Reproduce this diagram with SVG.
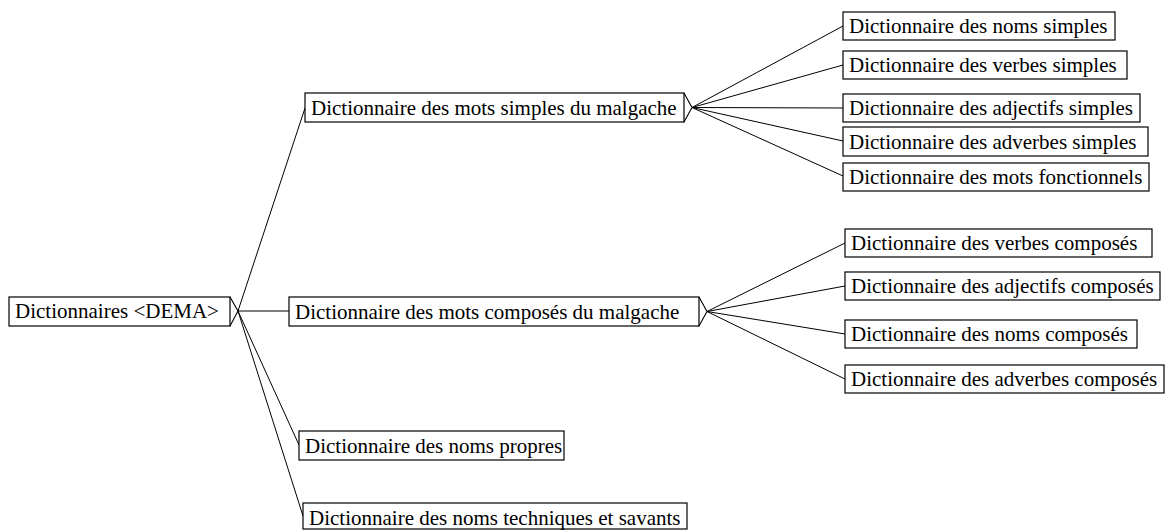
<svg xmlns="http://www.w3.org/2000/svg" width="1166" height="530" viewBox="0 0 1166 530">
<style>
.box{fill:#fff;stroke:#000;stroke-width:1.2}
.chev{fill:none;stroke:#000;stroke-width:1.1}
.lbl{font-family:"Liberation Serif","Times New Roman",serif;font-size:21px;fill:#000}
.conn line{stroke:#000;stroke-width:1}
</style>
<rect x="0" y="0" width="1166" height="530" fill="#fff"/>
<g id="connectors" class="conn">
<line x1="238" y1="311" x2="305" y2="108"/>
<line x1="238" y1="311" x2="289" y2="311"/>
<line x1="238" y1="311" x2="299" y2="445"/>
<line x1="238" y1="311" x2="303" y2="516"/>
<line x1="692" y1="107.5" x2="843" y2="26"/>
<line x1="692" y1="107.5" x2="843" y2="65"/>
<line x1="692" y1="107.5" x2="843" y2="108"/>
<line x1="692" y1="107.5" x2="843" y2="141"/>
<line x1="692" y1="107.5" x2="843" y2="176"/>
<line x1="707" y1="311.5" x2="845" y2="243"/>
<line x1="707" y1="311.5" x2="845" y2="286"/>
<line x1="707" y1="311.5" x2="845" y2="334"/>
<line x1="707" y1="311.5" x2="845" y2="379"/>
</g>
<g id="root">
<rect class="box" x="9" y="297" width="221" height="29"/>
<polyline class="chev" points="230,297 238,311 230,326"/>
<text class="lbl" x="15" y="318">Dictionnaires &lt;DEMA&gt;</text>
</g>
<g id="mots-simples">
<rect class="box" x="305" y="93" width="379" height="29"/>
<polyline class="chev" points="684,93 692,107.5 684,122"/>
<text class="lbl" x="311" y="114.5">Dictionnaire des mots simples du malgache</text>
</g>
<g id="mots-composes">
<rect class="box" x="289" y="297" width="410" height="29"/>
<polyline class="chev" points="699,297 707,311.5 699,326"/>
<text class="lbl" x="295" y="318.5">Dictionnaire des mots composés du malgache</text>
</g>
<g id="noms-propres">
<rect class="box" x="299" y="431" width="265" height="29"/>
<text class="lbl" x="305" y="452.5">Dictionnaire des noms propres</text>
</g>
<g id="noms-techniques">
<rect class="box" x="303" y="503" width="384" height="26"/>
<text class="lbl" x="309" y="525">Dictionnaire des noms techniques et savants</text>
</g>
<g id="noms-simples">
<rect class="box" x="843" y="12" width="272" height="28"/>
<text class="lbl" x="849" y="33">Dictionnaire des noms simples</text>
</g>
<g id="verbes-simples">
<rect class="box" x="843" y="51" width="284" height="28"/>
<text class="lbl" x="849" y="72">Dictionnaire des verbes simples</text>
</g>
<g id="adjectifs-simples">
<rect class="box" x="843" y="94" width="297" height="28"/>
<text class="lbl" x="849" y="115">Dictionnaire des adjectifs simples</text>
</g>
<g id="adverbes-simples">
<rect class="box" x="843" y="127" width="305" height="29"/>
<text class="lbl" x="849" y="148.5">Dictionnaire des adverbes simples</text>
</g>
<g id="mots-fonctionnels">
<rect class="box" x="843" y="163" width="306" height="28"/>
<text class="lbl" x="849" y="184">Dictionnaire des mots fonctionnels</text>
</g>
<g id="verbes-composes">
<rect class="box" x="845" y="229" width="307" height="28"/>
<text class="lbl" x="851" y="250">Dictionnaire des verbes composés</text>
</g>
<g id="adjectifs-composes">
<rect class="box" x="845" y="272" width="315" height="28"/>
<text class="lbl" x="851" y="293">Dictionnaire des adjectifs composés</text>
</g>
<g id="noms-composes">
<rect class="box" x="845" y="320" width="292" height="28"/>
<text class="lbl" x="851" y="341">Dictionnaire des noms composés</text>
</g>
<g id="adverbes-composes">
<rect class="box" x="845" y="365" width="319" height="28"/>
<text class="lbl" x="851" y="386">Dictionnaire des adverbes composés</text>
</g>
</svg>
